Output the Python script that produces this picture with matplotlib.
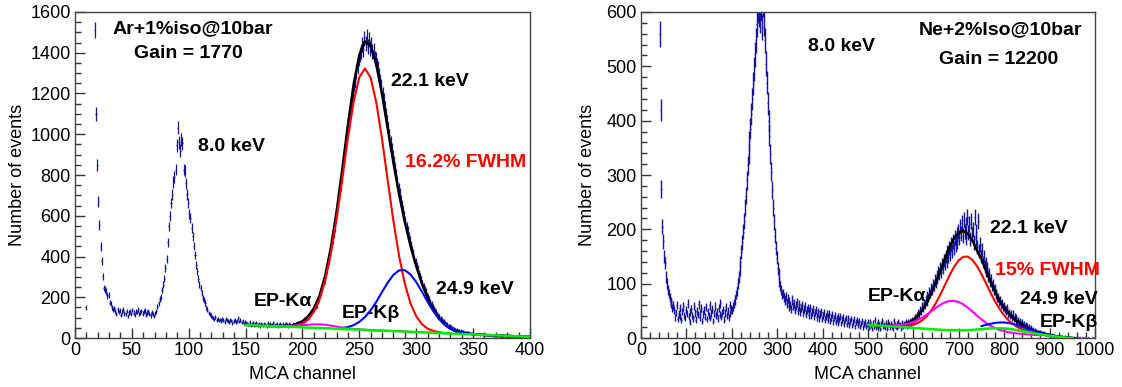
import numpy as np
import matplotlib
matplotlib.use("Agg")
import matplotlib.pyplot as plt
from matplotlib.ticker import MultipleLocator

plt.rcParams['font.family'] = ['Liberation Sans', 'DejaVu Sans']

# ---------------- left panel: Ar+1%iso, 1-channel bins (ch 0..399) ----------------
ar_counts = [
    0, 0, 0, 0, 0, 0, 0, 0, 0, 150,
    2500, 2500, 2500, 2500, 2500, 2500, 2500, 1510, 1100, 850,
    670, 556, 450, 376, 302, 245, 238, 228, 205, 212,
    174, 168, 152, 139, 146, 131, 118, 140, 127, 135,
    112, 129, 138, 121, 117, 133, 108, 126, 131, 119,
    137, 124, 114, 130, 127, 139, 118, 126, 133, 120,
    129, 136, 115, 124, 131, 119, 111, 126, 118, 109,
    122, 131, 154, 170, 190, 203, 235, 262, 290, 343,
    388, 470, 548, 597, 662, 704, 765, 790, 827, 945,
    1032, 960, 920, 975, 955, 827, 820, 760, 705, 663,
    610, 590, 540, 500, 452, 409, 360, 327, 290, 262,
    245, 220, 198, 186, 171, 150, 138, 122, 118, 110,
    105, 98, 92, 104, 88, 95, 86, 91, 83, 94,
    87, 80, 92, 89, 84, 78, 90, 86, 74, 83,
    88, 79, 85, 96, 81, 89, 77, 84, 72, 80,
    75, 72, 66, 78, 63, 70, 74, 61, 68, 75,
    64, 70, 59, 72, 67, 62, 71, 66, 58, 73,
    64, 69, 61, 67, 74, 60, 66, 70, 57, 65,
    71, 63, 68, 60, 66, 72, 64, 59, 69, 65,
    62, 70, 66, 61, 71, 68, 74, 70, 79, 76,
    86, 82, 92, 89, 101, 104, 112, 118, 127, 133,
    146, 156, 162, 181, 192, 210, 224, 245, 262, 284,
    310, 330, 362, 385, 418, 446, 482, 512, 545, 590,
    622, 668, 700, 748, 790, 828, 870, 918, 960, 1005,
    1050, 1085, 1132, 1168, 1205, 1248, 1262, 1308, 1330, 1372,
    1392, 1405, 1440, 1418, 1470, 1445, 1478, 1430, 1465, 1420,
    1440, 1405, 1412, 1370, 1365, 1340, 1322, 1290, 1262, 1235,
    1196, 1170, 1128, 1095, 1062, 1028, 995, 960, 925, 895,
    862, 828, 800, 768, 735, 708, 678, 652, 622, 598,
    572, 548, 525, 500, 478, 455, 432, 415, 390, 372,
    355, 338, 318, 302, 285, 270, 255, 240, 228, 212,
    200, 190, 176, 168, 155, 146, 136, 130, 118, 112,
    106, 98, 94, 86, 82, 76, 72, 68, 62, 60,
    55, 53, 48, 47, 43, 42, 38, 40, 35, 36,
    32, 33, 29, 30, 27, 28, 24, 26, 22, 23,
    20, 22, 18, 20, 17, 19, 15, 18, 16, 14,
    17, 13, 15, 12, 14, 11, 13, 10, 12, 9,
    11, 10, 8, 10, 9, 7, 9, 8, 6, 8,
    7, 6, 7, 5, 6, 5, 6, 4, 5, 4,
    5, 3, 4, 3, 4, 3, 2, 3, 2, 2,
]

# fit components (values read every 5 channels)
ar_total_x = list(range(150, 405, 5))
ar_total = [64, 63, 62, 60, 59, 59, 58, 59, 59, 70, 82, 106, 145, 207, 306, 443, 619, 827,
            1047, 1244, 1388, 1455, 1434, 1341, 1196, 1027, 860, 705, 570, 452, 353, 268,
            197, 141, 98, 66, 46, 33, 26, 22, 19, 16.5, 15, 14, 13, 12, 11, 9.5, 8, 7, 6]
ar_bkg_x = list(range(150, 405, 5))
ar_bkg = [64, 63, 62, 60, 59, 58, 57, 56, 55, 54, 52, 51, 50, 49, 48, 47, 45, 44, 43, 42,
          41, 40, 38, 37, 36, 35, 34, 33, 32, 30, 29, 28, 27, 26, 25, 23, 22, 21, 20, 19,
          18, 16, 15, 14, 13, 12, 11, 9, 8, 7, 6]
ar_main_x = list(range(195, 335, 5))
ar_main = [63, 72, 91, 128, 189, 283, 416, 585, 781, 983, 1159, 1280, 1323, 1277, 1154,
           976, 772, 574, 402, 267, 170, 107, 68, 46, 35, 29, 24, 22]
ar_kb_x = list(range(235, 405, 5))
ar_kb = [49, 54, 63, 79, 103, 136, 178, 226, 272, 310, 332, 333, 312, 275, 228, 178, 132,
         94, 65, 46, 33, 26, 22, 19, 16.5, 15, 14, 13, 12, 11, 9.5, 8, 7, 6]
ar_epka_x = list(range(150, 305, 5))
ar_epka = [64, 63, 62, 60, 59, 58.5, 58, 58.5, 59.5, 61, 63, 65, 67, 67, 65, 61, 56, 51,
           47.5, 44.5, 42, 40.5, 38, 37, 36, 35, 34, 33, 32, 30, 29]

# ---------------- right panel: Ne+2%Iso, 2-channel bins (ch 0..999) ----------------
ne_counts = [
    # 0 - 72
    40, 1500, 1500, 1500, 1500, 1500, 1500, 1500, 1500, 1500,
    1500, 1500, 1500, 1500, 1500, 1500, 1500, 1500, 1500, 1500,
    560, 420, 275, 205, 178, 150, 138, 112, 101, 88,
    82, 74, 63, 68, 55, 60,
    # 72 - 200
    52, 38, 47, 61, 35, 44, 56, 40, 33, 49,
    58, 42, 37, 51, 45, 63, 39, 30, 48, 54,
    41, 36, 59, 46, 34, 50, 43, 62, 38, 47,
    55, 32, 44, 52, 40, 57, 35, 49, 42, 60,
    37, 46, 53, 31, 45, 58, 41, 48, 36, 55,
    43, 64, 39, 47, 51, 34, 46, 57, 42, 50,
    38, 61, 45, 53,
    # 200 - 280
    52, 58, 63, 70, 80, 86, 100, 112, 126, 140,
    158, 176, 196, 216, 240, 262, 290, 318, 338, 362,
    385, 412, 440, 468, 495, 522, 548, 578, 605, 596,
    628, 585, 610, 572, 615, 580, 548, 505, 470, 432,
    # 280 - 320
    400, 372, 338, 306, 272, 240, 214, 188, 166, 148,
    128, 118, 104, 96, 88, 80, 82, 74, 70, 76,
    # 320 - 500
    64, 72, 58, 67, 61, 54, 70, 59, 63, 52,
    60, 66, 50, 57, 62, 48, 55, 60, 46, 53,
    58, 44, 51, 56, 42, 50, 55, 41, 48, 53,
    40, 47, 52, 38, 45, 49, 36, 44, 48, 35,
    42, 47, 34, 40, 45, 33, 39, 44, 31, 38,
    43, 30, 37, 41, 29, 36, 40, 28, 35, 39,
    27, 34, 38, 26, 33, 37, 25, 32, 36, 24,
    31, 35, 23, 30, 34, 22, 29, 33, 24, 28,
    32, 21, 27, 31, 20, 26, 30, 22, 25, 29,
    # 500 - 600
    26, 19, 30, 23, 17, 28, 22, 33, 20, 25,
    18, 29, 24, 16, 27, 31, 21, 24, 19, 28,
    23, 17, 30, 25, 20, 27, 22, 18, 32, 24,
    21, 26, 19, 29, 23, 25, 18, 28, 22, 27,
    24, 30, 21, 26, 29, 23, 31, 27, 33, 30,
    # 600 - 700
    34, 38, 35, 42, 40, 47, 44, 52, 50, 58,
    55, 64, 62, 70, 68, 77, 74, 84, 82, 92,
    88, 98, 96, 107, 103, 114, 110, 121, 118, 129,
    122, 136, 130, 143, 137, 150, 141, 158, 150, 165,
    155, 172, 160, 178, 166, 185, 172, 190, 178, 196,
    # 700 - 800
    185, 205, 192, 212, 188, 218, 196, 208, 185, 222,
    194, 210, 182, 215, 190, 200, 176, 222, 182, 195,
    168, 215, 160, 172, 150, 162, 140, 150, 132, 138,
    124, 128, 114, 118, 104, 107, 96, 98, 88, 90,
    81, 82, 74, 75, 68, 69, 62, 63, 57, 58,
    # 800 - 900
    54, 49, 51, 56, 44, 47, 41, 45, 38, 44,
    35, 39, 32, 38, 30, 33, 28, 31, 26, 29,
    24, 27, 22, 25, 20, 23, 18, 21, 17, 19,
    15, 17, 13, 15, 12, 13, 11, 12, 10, 11,
    9, 10, 8, 9, 7, 8, 7, 6, 7, 6,
    # 900 - 1000
    5, 5, 6, 4, 5, 4, 4, 3, 4, 3,
    3, 3, 2, 3, 2, 2, 3, 2, 2, 1,
    2, 1, 2, 1, 1, 1, 1, 1, 0, 1,
    1, 0, 1, 1, 0, 0, 1, 0, 0, 1,
    0, 0, 1, 0, 0, 0, 0, 1, 0, 0,
]

ne_total_x = list(range(550, 960, 10))
ne_total = [22.2, 22.7, 23.7, 25.5, 28.5, 33.6, 41, 51.5, 65.5, 82.9, 103.1, 125.3, 147.7,
            168, 184.3, 194.3, 197, 191.7, 179.4, 161.3, 145.4, 124.1, 103.4, 84.8, 68.8,
            55.6, 44.9, 36.4, 29.6, 23.9, 19.1, 15.4, 12.1, 9.4, 7.1, 5.3, 3.8, 2.6, 1.5,
            0.7, 0]
ne_bkg_x = list(range(500, 960, 10))
ne_bkg = [24, 23.5, 23, 22.5, 22, 21.5, 21, 20.5, 20, 19.3, 18.7, 18, 17.4, 16.8, 16.2,
          15.7, 15.2, 14.8, 14.5, 14.3, 14.2, 14.3, 14.5, 15, 15.6, 16.3, 17, 17.6, 18, 18,
          17.6, 16.8, 15.6, 14.2, 12.7, 11.2, 9.7, 8.2, 6.8, 5.5, 4.3, 3.2, 2.2, 1.3, 0.6, 0]
ne_main_x = list(range(560, 890, 10))
ne_main = [21.4, 21.4, 21.7, 22.5, 24.4, 27.6, 32.9, 40.7, 51.4, 64.9, 80.9, 98.4, 115.8,
           131.3, 143, 149.5, 149.7, 143.8, 132.6, 117.6, 100.6, 83.3, 67.2, 53.2, 41.5,
           32.3, 25.2, 19.9, 15.9, 12.9, 10.6, 8.6, 7]
ne_epka_x = list(range(560, 890, 10))
ne_epka = [23.9, 24.3, 25.3, 26.9, 29.6, 33.2, 37.9, 43.5, 49.7, 55.8, 61.5, 65.8, 68.2,
           68.4, 66.2, 61.8, 55.8, 48.8, 41.4, 34.3, 28, 22.6, 18.3, 14.9, 12.5, 10.6, 9.3,
           8.3, 7.5, 6.6, 6.1, 5.5, 5.0]
ne_kb_x = list(range(750, 950, 10))
ne_kb = [21.9, 24.1, 26.1, 27.8, 28.6, 28.6, 27.6, 25.8, 23.3, 20.4, 17.4, 14.5, 11.7, 9.2,
         7.1, 5.3, 3.8, 2.6, 1.5, 0.7]

DATA_COLOR = '#14149c'
FS = 13


def draw_hist(ax, counts, bin_width, lw=0.9):
    c = np.asarray(counts, dtype=float)
    centers = np.arange(len(c)) * bin_width + bin_width / 2.0
    m = c > 0
    ax.errorbar(centers[m], c[m], xerr=bin_width / 2.0, yerr=np.sqrt(c[m]),
                fmt='none', ecolor=DATA_COLOR, elinewidth=lw, capsize=0, zorder=2)


def style_axes(ax, xmax, xmaj, xmin, ymax, ymaj, ymin):
    ax.set_xlim(0, xmax)
    ax.set_ylim(0, ymax)
    ax.xaxis.set_major_locator(MultipleLocator(xmaj))
    ax.xaxis.set_minor_locator(MultipleLocator(xmin))
    ax.yaxis.set_major_locator(MultipleLocator(ymaj))
    ax.yaxis.set_minor_locator(MultipleLocator(ymin))
    ax.tick_params(which='both', direction='in', top=False, right=False,
                   labelsize=FS, width=1, color='#333333')
    ax.tick_params(which='major', length=7, pad=3)
    ax.tick_params(which='minor', length=4)
    for sp in ax.spines.values():
        sp.set_linewidth(1)
        sp.set_color('#444444')
    ax.set_xlabel('MCA channel', fontsize=FS)
    ax.set_ylabel('Number of events', fontsize=FS)
    ax.xaxis.set_label_coords(0.5, -0.085)


fig = plt.figure(figsize=(11.22, 3.87), dpi=100)

# left panel
ax1 = fig.add_axes([0.0668, 0.1266, 0.4055, 0.8424])
draw_hist(ax1, ar_counts, 1)
ax1.plot(ar_total_x, ar_total, color='black', lw=1.8, zorder=3)
ax1.plot(ar_main_x, ar_main, color='red', lw=1.5, zorder=4)
ax1.plot(ar_kb_x, ar_kb, color='blue', lw=1.5, zorder=4)
ax1.plot(ar_epka_x, ar_epka, color='magenta', lw=1.5, zorder=5)
ax1.plot(ar_bkg_x, ar_bkg, color='#00ee00', lw=1.8, zorder=6)
style_axes(ax1, 400, 50, 10, 1600, 200, 50)
ax1.yaxis.set_label_coords(-0.108, 0.5)

bold = dict(fontsize=14, fontweight='bold', va='center')
ax1.text(104, 1516, 'Ar+1%iso@10bar', ha='center', **bold)
ax1.text(100, 1394, 'Gain = 1770', ha='center', **bold)
ax1.text(108, 940, '8.0 keV', ha='left', **bold)
ax1.text(278, 1260, '22.1 keV', ha='left', **bold)
ax1.text(290, 861, '16.2% FWHM', ha='left', color='red', **bold)
ax1.text(317, 236, '24.9 keV', ha='left', **bold)
ax1.text(157, 177, 'EP-K\u03b1', ha='left', **bold)
ax1.text(235, 118, 'EP-K\u03b2', ha='left', **bold)

# right panel
ax2 = fig.add_axes([0.5713, 0.1266, 0.4046, 0.8424])
draw_hist(ax2, ne_counts, 2, lw=1.0)
ax2.plot(ne_total_x, ne_total, color='black', lw=1.8, zorder=3)
ax2.plot(ne_main_x, ne_main, color='red', lw=1.5, zorder=4)
ax2.plot(ne_epka_x, ne_epka, color='magenta', lw=1.5, zorder=4)
ax2.plot(ne_kb_x, ne_kb, color='blue', lw=1.5, zorder=5)
ax2.plot(ne_bkg_x, ne_bkg, color='#00ee00', lw=1.8, zorder=6)
style_axes(ax2, 1000, 100, 20, 600, 100, 20)
ax2.yaxis.set_label_coords(-0.099, 0.5)

ax2.text(793, 567, 'Ne+2%Iso@10bar', ha='center', **bold)
ax2.text(787, 512, 'Gain = 12200', ha='center', **bold)
ax2.text(368, 537, '8.0 keV', ha='left', **bold)
ax2.text(769, 202, '22.1 keV', ha='left', **bold)
ax2.text(780, 125, '15% FWHM', ha='left', color='red', **bold)
ax2.text(835, 70, '24.9 keV', ha='left', **bold)
ax2.text(500, 77, 'EP-K\u03b1', ha='left', **bold)
ax2.text(879, 28, 'EP-K\u03b2', ha='left', **bold)

fig.savefig('out.png', dpi=100)
